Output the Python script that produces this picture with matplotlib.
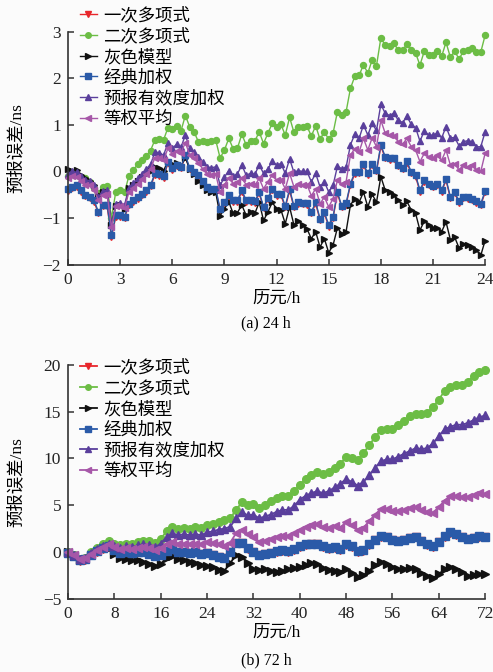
import numpy as np
import matplotlib
matplotlib.use("Agg")
import matplotlib.pyplot as plt

# 预报误差 (ns)，24 h 每 15 min 一个历元，72 h 每 1 h 一个历元
labels = ["一次多项式", "二次多项式", "灰色模型", "经典加权", "预报有效度加权", "等权平均"]

red_24 = [
    -0.41, -0.36, -0.33, -0.43, -0.53, -0.57, -0.65, -0.90, -0.75, -0.75, -1.40, -0.97, -0.97, -1.00, -0.72, -0.65, -0.58, -0.51, -0.43, -0.32,
    -0.07, -0.09, -0.13, 0.18, 0.04, 0.11, 0.07, 0.32, 0.05, -0.04, -0.11, -0.23, -0.36, -0.40, -0.40, -0.83, -0.68, -0.54, -0.65, -0.65,
    -0.43, -0.65, -0.65, -0.67, -0.47, -0.79, -0.60, -0.40, -0.52, -0.51, -0.77, -0.41, -0.77, -0.69, -0.70, -0.71, -0.90, -0.69, -1.04, -0.90,
    -1.18, -1.00, -0.47, -0.77, -0.71, -0.29, -0.05, -0.04, 0.13, -0.07, 0.14, 0.00, 0.54, 0.29, 0.25, 0.27, 0.11, 0.05, 0.19, -0.04,
    -0.11, -0.43, -0.22, -0.29, -0.34, -0.29, -0.43, -0.19, -0.57, -0.47, -0.67, -0.57, -0.58, -0.61, -0.67, -0.72, -0.45]
green_24 = [
    -0.10, -0.05, -0.08, -0.12, -0.15, -0.22, -0.35, -0.47, -0.33, -0.31, -1.00, -0.43, -0.40, -0.45, -0.10, 0.03, 0.15, 0.25, 0.33, 0.45,
    0.68, 0.69, 0.68, 0.94, 0.92, 0.97, 0.87, 1.20, 0.96, 0.85, 0.64, 0.66, 0.64, 0.66, 0.67, 0.29, 0.46, 0.71, 0.49, 0.50,
    0.80, 0.57, 0.65, 0.65, 0.85, 0.60, 0.82, 1.03, 0.96, 1.01, 0.78, 1.16, 0.84, 0.96, 0.96, 0.97, 0.76, 0.98, 0.69, 0.85,
    0.69, 0.82, 1.28, 1.21, 1.28, 1.78, 2.04, 2.06, 2.29, 2.11, 2.39, 2.27, 2.86, 2.71, 2.69, 2.75, 2.60, 2.60, 2.73, 2.60,
    2.54, 2.28, 2.58, 2.50, 2.49, 2.58, 2.47, 2.77, 2.45, 2.58, 2.41, 2.58, 2.60, 2.65, 2.56, 2.56, 2.92]
black_24 = [
    0.05, 0.02, 0.03, -0.08, -0.15, -0.20, -0.30, -0.50, -0.45, -0.45, -1.15, -0.75, -0.72, -0.80, -0.35, -0.28, -0.20, -0.12, -0.05, 0.00,
    0.10, 0.08, 0.02, 0.22, 0.15, 0.18, 0.12, 0.30, 0.05, -0.05, -0.20, -0.30, -0.40, -0.45, -0.45, -0.95, -0.80, -0.65, -0.90, -0.88,
    -0.72, -0.94, -0.87, -0.90, -0.66, -1.05, -0.87, -0.66, -0.80, -0.82, -1.12, -0.76, -1.15, -1.07, -1.15, -1.23, -1.44, -1.29, -1.62, -1.44,
    -1.74, -1.58, -1.21, -1.33, -1.29, -0.72, -0.58, -0.66, -0.44, -0.76, -0.49, -0.66, -0.11, -0.40, -0.45, -0.50, -0.62, -0.72, -0.64, -0.83,
    -0.90, -1.26, -1.06, -1.15, -1.21, -1.22, -1.29, -1.08, -1.46, -1.41, -1.64, -1.55, -1.58, -1.62, -1.69, -1.80, -1.48]
blue_24 = [
    -0.38, -0.33, -0.30, -0.40, -0.50, -0.54, -0.62, -0.87, -0.72, -0.72, -1.37, -0.94, -0.94, -0.97, -0.69, -0.62, -0.55, -0.48, -0.40, -0.29,
    -0.04, -0.06, -0.10, 0.21, 0.07, 0.14, 0.10, 0.35, 0.08, -0.01, -0.08, -0.20, -0.33, -0.37, -0.37, -0.80, -0.65, -0.51, -0.62, -0.62,
    -0.40, -0.62, -0.62, -0.64, -0.44, -0.76, -0.57, -0.37, -0.49, -0.48, -0.74, -0.38, -0.74, -0.66, -0.67, -0.68, -0.87, -0.66, -1.01, -0.87,
    -1.15, -0.97, -0.44, -0.74, -0.68, -0.26, -0.02, -0.01, 0.16, -0.04, 0.17, 0.03, 0.57, 0.32, 0.28, 0.30, 0.14, 0.08, 0.22, -0.01,
    -0.08, -0.40, -0.19, -0.26, -0.31, -0.26, -0.40, -0.16, -0.54, -0.44, -0.64, -0.54, -0.55, -0.58, -0.64, -0.69, -0.42]
purple_24 = [
    -0.05, 0.00, -0.02, -0.10, -0.18, -0.20, -0.30, -0.55, -0.42, -0.40, -1.15, -0.70, -0.68, -0.72, -0.35, -0.25, -0.15, -0.05, 0.05, 0.15,
    0.42, 0.40, 0.35, 0.62, 0.50, 0.58, 0.52, 0.78, 0.50, 0.42, 0.32, 0.20, 0.10, 0.08, 0.10, -0.30, -0.12, 0.02, -0.10, -0.05,
    0.14, -0.08, -0.04, -0.06, 0.14, -0.04, 0.05, 0.22, 0.14, 0.17, -0.04, 0.27, -0.02, 0.02, 0.00, 0.00, -0.22, -0.04, -0.33, -0.22,
    -0.44, -0.30, 0.11, 0.06, 0.09, 0.57, 0.80, 0.71, 1.00, 0.78, 1.03, 0.88, 1.44, 1.25, 1.20, 1.25, 1.10, 1.05, 1.18, 1.01,
    0.94, 0.65, 0.87, 0.78, 0.78, 0.82, 0.72, 0.96, 0.72, 0.73, 0.55, 0.64, 0.66, 0.64, 0.53, 0.53, 0.85]
magenta_24 = [
    -0.15, -0.10, -0.12, -0.20, -0.28, -0.30, -0.40, -0.62, -0.50, -0.48, -1.20, -0.75, -0.75, -0.78, -0.45, -0.35, -0.26, -0.16, -0.06, 0.05,
    0.30, 0.28, 0.24, 0.50, 0.38, 0.45, 0.40, 0.62, 0.36, 0.28, 0.18, 0.06, -0.05, -0.08, -0.06, -0.45, -0.28, -0.14, -0.26, -0.22,
    -0.15, -0.28, -0.27, -0.30, -0.15, -0.37, -0.22, -0.08, -0.18, -0.18, -0.37, -0.04, -0.33, -0.26, -0.28, -0.28, -0.52, -0.37, -0.69, -0.55,
    -0.76, -0.58, -0.19, -0.26, -0.22, 0.35, 0.49, 0.42, 0.71, 0.46, 0.72, 0.53, 1.10, 0.82, 0.78, 0.76, 0.64, 0.58, 0.71, 0.53,
    0.46, 0.21, 0.39, 0.32, 0.28, 0.35, 0.24, 0.46, 0.14, 0.17, 0.03, 0.14, 0.10, 0.13, 0.03, 0.00, 0.39]

red_72 = [
    -0.15, -0.45, -0.95, -0.85, -0.35, 0.05, 0.35, 0.55, 0.15, -0.15, -0.05, -0.15, -0.05, -0.05, -0.25, -0.45, -0.35, 0.05, 0.25, -0.05,
    -0.05, -0.15, -0.05, -0.25, -0.15, -0.35, -0.55, -0.65, -0.05, 0.95, 0.95, 0.35, -0.05, -0.35, -0.25, -0.15, 0.05, 0.15, 0.05, 0.25,
    0.55, 0.75, 0.85, 0.85, 0.55, 0.35, 0.45, 0.25, 0.75, 0.55, 0.05, 0.15, 0.75, 1.25, 1.65, 1.55, 1.25, 1.15, 1.25, 1.45,
    1.55, 1.15, 0.75, 0.55, 1.05, 1.65, 2.05, 1.85, 1.55, 1.35, 1.45, 1.65, 1.55]
green_72 = [
    0.0, -0.3, -0.7, -0.6, 0.0, 0.4, 0.8, 1.2, 0.9, 0.7, 0.9, 0.8, 1.1, 1.2, 1.2, 1.0, 1.4, 2.2, 2.7, 2.5,
    2.6, 2.5, 2.7, 2.6, 2.9, 3.0, 3.2, 3.4, 3.6, 4.5, 5.3, 5.0, 5.1, 4.7, 5.0, 5.4, 5.8, 6.0, 6.0, 6.5,
    7.2, 7.8, 8.2, 8.6, 8.3, 8.6, 9.0, 9.4, 10.2, 10.0, 9.8, 10.6, 11.4, 12.3, 13.0, 13.1, 13.2, 13.6, 14.0, 14.5,
    14.8, 14.7, 14.9, 15.5, 16.3, 17.2, 17.6, 17.8, 17.9, 18.2, 18.8, 19.2, 19.5]
black_72 = [
    0.0, -0.4, -0.9, -0.8, -0.4, 0.0, 0.3, 0.4, -0.2, -0.6, -0.8, -0.9, -0.9, -1.1, -1.3, -1.5, -1.3, -0.6, -0.4, -0.7,
    -0.9, -1.1, -1.2, -1.4, -1.5, -1.6, -1.9, -2.0, -1.2, -0.3, -0.5, -1.2, -1.8, -1.9, -1.8, -2.0, -2.1, -2.0, -1.8, -1.7,
    -1.6, -1.4, -1.2, -1.3, -1.7, -1.9, -2.0, -2.1, -1.8, -2.2, -2.7, -2.5, -2.0, -1.4, -1.1, -1.3, -1.6, -1.8, -1.8, -1.7,
    -1.8, -2.2, -2.6, -2.8, -2.4, -1.8, -1.6, -1.8, -2.1, -2.6, -2.5, -2.4, -2.4]
blue_72 = [
    -0.1, -0.4, -0.9, -0.8, -0.3, 0.1, 0.4, 0.6, 0.2, -0.1, 0.0, -0.1, 0.0, 0.0, -0.2, -0.4, -0.3, 0.1, 0.3, 0.0,
    0.0, -0.1, 0.0, -0.2, -0.1, -0.3, -0.5, -0.6, 0.0, 1.0, 1.0, 0.4, 0.0, -0.3, -0.2, -0.1, 0.1, 0.2, 0.1, 0.3,
    0.6, 0.8, 0.9, 0.9, 0.6, 0.4, 0.5, 0.3, 0.8, 0.6, 0.1, 0.2, 0.8, 1.3, 1.7, 1.6, 1.3, 1.2, 1.3, 1.5,
    1.6, 1.2, 0.8, 0.6, 1.1, 1.7, 2.1, 1.9, 1.6, 1.4, 1.5, 1.7, 1.6]
purple_72 = [
    0.0, -0.3, -0.8, -0.6, -0.1, 0.3, 0.6, 0.9, 0.6, 0.4, 0.6, 0.5, 0.7, 0.8, 0.7, 0.5, 0.9, 1.6, 2.0, 1.8,
    1.9, 1.8, 1.9, 1.8, 2.1, 2.2, 2.4, 2.5, 2.7, 3.6, 4.3, 3.9, 4.0, 3.6, 3.8, 4.0, 4.3, 4.5, 4.5, 4.9,
    5.6, 6.0, 6.3, 6.5, 6.3, 6.5, 6.9, 7.3, 7.8, 7.5, 7.1, 7.5, 8.2, 9.0, 9.7, 9.9, 9.9, 10.2, 10.5, 10.8,
    11.1, 11.0, 11.1, 11.6, 12.4, 13.1, 13.4, 13.6, 13.6, 13.8, 14.1, 14.4, 14.6]
magenta_72 = [
    0.0, -0.3, -0.8, -0.6, -0.2, 0.2, 0.5, 0.8, 0.5, 0.3, 0.4, 0.3, 0.4, 0.5, 0.4, 0.2, 0.4, 0.9, 1.1, 0.9,
    0.9, 0.8, 0.9, 0.8, 1.1, 1.0, 0.8, 0.6, 1.0, 2.0, 2.4, 1.9, 1.6, 1.1, 1.2, 1.4, 1.6, 1.7, 1.7, 2.0,
    2.4, 2.7, 2.9, 3.0, 2.7, 2.6, 2.8, 2.6, 3.2, 2.9, 2.4, 2.6, 3.3, 4.0, 4.6, 4.6, 4.4, 4.4, 4.5, 4.7,
    4.8, 4.5, 4.3, 4.2, 4.8, 5.5, 6.0, 6.0, 5.9, 5.9, 6.1, 6.3, 6.2]

t_24 = np.arange(len(green_24)) * 0.25
t_72 = np.arange(len(green_72)) * 1.0

colors = ["#e8262b", "#6cbd45", "#111111", "#2a5aa8", "#5a3f9c", "#a657a8"]
markers = ["v", "o", ">", "s", "^", "<"]

plt.rcParams["font.family"] = ["Liberation Serif", "Noto Sans CJK SC"]
plt.rcParams["axes.unicode_minus"] = True

fig = plt.figure(figsize=(4.93, 6.72), dpi=100, facecolor="#fbfbfb")
ax1 = fig.add_axes([0.138, 0.606, 0.846, 0.347])
ax2 = fig.add_axes([0.138, 0.109, 0.846, 0.348])


def draw(ax, t, series, ms, lw):
    for y, c, m, lab in zip(series, colors, markers, labels):
        ax.plot(t, y, color=c, marker=m, markersize=ms, linewidth=lw,
                label=lab, clip_on=False)
    ax.set_facecolor("#fbfbfb")
    for s in ["top", "right"]:
        ax.spines[s].set_visible(False)
    for s in ["left", "bottom"]:
        ax.spines[s].set_linewidth(1.2)
        ax.spines[s].set_color("#333333")
    ax.tick_params(direction="in", length=4, width=1.1, labelsize=12.5,
                   colors="#333333", labelcolor="#222222", pad=5)
    ax.set_xlabel("历元/h", fontsize=12.5, labelpad=2)
    ax.set_ylabel("预报误差/ns", fontsize=12.5, labelpad=13)
    # 图例标记统一缩到约 4 pt
    ax.legend(loc="upper left", frameon=False, fontsize=12.5,
              handlelength=1.0, handletextpad=0.35, labelspacing=0.24,
              borderpad=0, borderaxespad=0, markerscale=4.0 / ms)


draw(ax1, t_24, [red_24, green_24, black_24, blue_24, purple_24, magenta_24], 4.3, 1.0)
ax1.set_xlim(0, 24)
ax1.set_ylim(-2, 3)
ax1.set_xticks(range(0, 25, 3))
ax1.set_yticks(range(-2, 4))
ax1.legend_.set_bbox_to_anchor((0.028, 1.103))

draw(ax2, t_72, [red_72, green_72, black_72, blue_72, purple_72, magenta_72], 5.5, 1.3)
ax2.set_xlim(0, 72)
ax2.set_ylim(-5, 20)
ax2.set_xticks(range(0, 73, 8))
ax2.set_yticks(range(-5, 21, 5))
ax2.legend_.set_bbox_to_anchor((0.028, 1.022))

fig.text(0.54, 0.519, "(a) 24 h", ha="center", va="center", fontsize=11.5)
fig.text(0.54, 0.018, "(b) 72 h", ha="center", va="center", fontsize=11.5)

fig.savefig("out.png", dpi=100, facecolor=fig.get_facecolor())
